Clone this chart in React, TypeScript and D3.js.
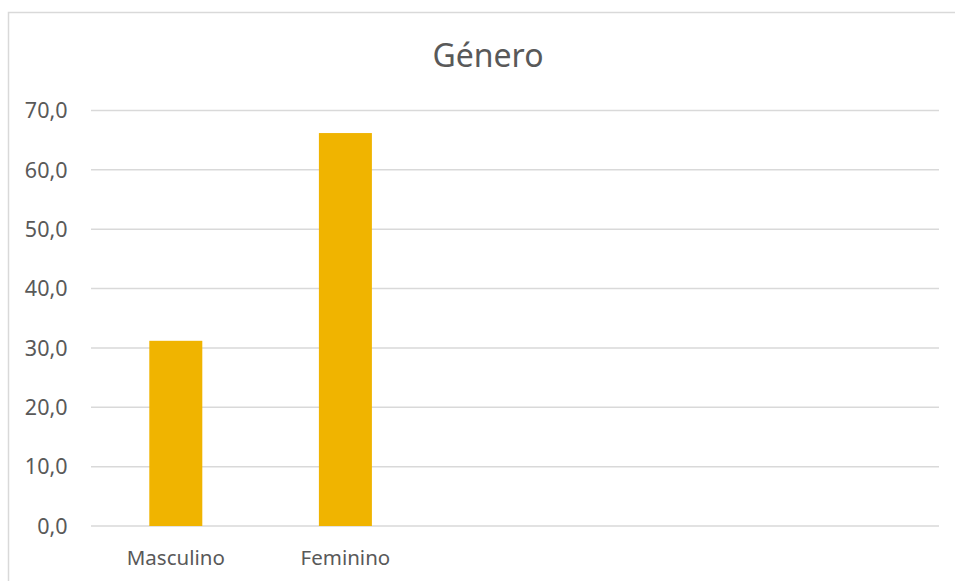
import React from "react";
import * as d3 from "d3";

const categories = ["Masculino", "Feminino", "", "", ""];
const values = [31.2, 66.2, null, null, null];
const yTicks = [0, 10, 20, 30, 40, 50, 60, 70];
const title = "Género";

const W = 955;
const H = 581;
const FONT = "'Segoe UI', 'Noto Sans', 'Open Sans', sans-serif";

export default function App() {
  const left = 91;
  const right = 939;
  const top = 110.5;
  const bottom = 526;

  const x = d3
    .scaleBand<number>()
    .domain(categories.map((_, i) => i))
    .range([left, right])
    .paddingInner(0.6875)
    .paddingOuter(0.34375);
  const y = d3.scaleLinear().domain([0, 70]).range([bottom, top]);
  const fmt = (v: number) => d3.format(".1f")(v).replace(".", ",");
  const band = (right - left) / categories.length;

  return (
    <svg
      width={W}
      height={H}
      style={{ position: "fixed", left: 0, top: 0, background: "#fff" }}
    >
      <rect x={0} y={0} width={W} height={H} fill="#fff" />
      <rect
        x={8.5}
        y={12.5}
        width={1000}
        height={700}
        fill="#fff"
        stroke="#D9D9D9"
        strokeWidth={1.5}
      />
      <text
        x={488}
        y={67}
        textAnchor="middle"
        fontFamily={FONT}
        fontSize={32}
        fill="#595959"
      >
        {title}
      </text>
      {yTicks.map((t) => (
        <g key={t}>
          <line
            x1={left}
            x2={right}
            y1={y(t)}
            y2={y(t)}
            stroke="#D9D9D9"
            strokeWidth={1.5}
          />
          <text
            x={67.5}
            y={y(t)}
            dy="0.36em"
            textAnchor="end"
            fontFamily={FONT}
            fontSize={21.5}
            fill="#595959"
          >
            {fmt(t)}
          </text>
        </g>
      ))}
      {values.map((v, i) =>
        v == null ? null : (
          <rect
            key={i}
            x={x(i)}
            y={y(v)}
            width={x.bandwidth()}
            height={y(0) - y(v)}
            fill="#F0B400"
          />
        )
      )}
      {categories.map((c, i) => (
        <text
          key={i}
          x={left + band * (i + 0.5)}
          y={565}
          textAnchor="middle"
          fontFamily={FONT}
          fontSize={20.5}
          fill="#595959"
        >
          {c}
        </text>
      ))}
    </svg>
  );
}
